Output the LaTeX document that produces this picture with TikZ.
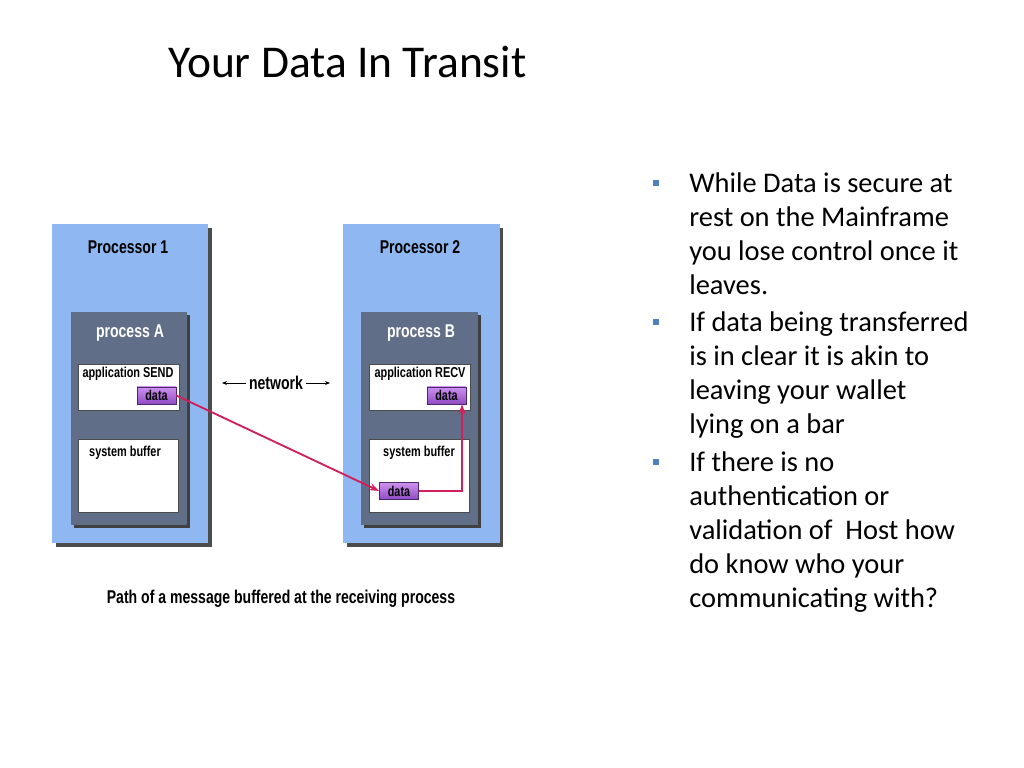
\documentclass[tikz,border=0pt]{standalone}
\usepackage{fontspec}
\setmainfont{Carlito}
\newfontfamily\diagfont{Liberation Sans}[FakeStretch=0.76]
\usetikzlibrary{arrows.meta,shadows}
\definecolor{cpublue}{RGB}{143,184,242}
\definecolor{procgray}{RGB}{96,111,135}
\definecolor{datatop}{RGB}{205,145,240}
\definecolor{databot}{RGB}{145,75,195}
\definecolor{dataedge}{RGB}{75,40,105}
\definecolor{msgred}{RGB}{210,30,90}
\definecolor{bulletblue}{RGB}{79,129,189}

\begin{document}
\begin{tikzpicture}[x=0.703125pt,y=-0.703125pt,
    cpu/.style={fill=cpublue,inner sep=0pt,minimum width=109.7pt,minimum height=224.3pt,
      drop shadow={shadow xshift=2.8pt,shadow yshift=-2.8pt,fill=black!70,opacity=1}},
    proc/.style={fill=procgray,inner sep=0pt,minimum width=81.6pt,minimum height=149.8pt,
      drop shadow={shadow xshift=2.1pt,shadow yshift=-2.1pt,fill=black!75,opacity=1}},
    app/.style={fill=white,draw=black!70,inner sep=0pt,minimum width=71pt,minimum height=32.3pt},
    buf/.style={fill=white,draw=black!70,inner sep=0pt,minimum width=70.3pt,minimum height=51.3pt},
    data/.style={top color=datatop,bottom color=databot,draw=dataedge,inner sep=0pt,
      minimum width=27.4pt,minimum height=12pt,font=\diagfont\bfseries\fontsize{10}{11}\selectfont},
    cpulabel/.style={font=\diagfont\bfseries\fontsize{13}{15}\selectfont},
    proclabel/.style={text=white,font=\diagfont\bfseries\fontsize{13}{15}\selectfont},
    boxlabel/.style={font=\diagfont\bfseries\fontsize{10.1}{12}\selectfont},
    msg/.style={draw=msgred,line width=1.3pt,-{Stealth[length=7pt,width=5pt]}},
    netarrow/.style={draw=black,line width=0.6pt,-{Stealth[length=3.5pt,width=2.8pt]}},
    bulletsq/.style={fill=bulletblue,inner sep=0pt,minimum size=4.5pt},
    item/.style={anchor=north west,inner sep=0pt,align=left,font=\fontsize{20}{23.9}\selectfont}]
    \useasboundingbox (0,0) rectangle (1024,768);

    \node[anchor=base west,inner sep=0pt,font=\fontsize{32}{38}\selectfont] (title) at (168,78) {Your Data In Transit};

    \node[cpu] (cpu1) at (130,383.5) {};
    \node[cpu] (cpu2) at (421.5,383.5) {};
    \node[proc] (procA) at (129,418.5) {};
    \node[proc] (procB) at (419.5,418.5) {};
    \node[app] (appA) at (128.5,387) {};
    \node[app] (appB) at (419.5,387) {};
    \node[buf] (bufA) at (128,475.5) {};
    \node[buf] (bufB) at (419,475.5) {};
    \node[data] (dataA) at (156.5,395.5) {data};
    \node[data] (dataB) at (446.5,395.5) {data};
    \node[data] (dataC) at (399,491) {data};

    \node[cpulabel] (cpu1lab) at (128,247) {Processor 1};
    \node[cpulabel] (cpu2lab) at (420,247) {Processor 2};
    \node[proclabel] (procAlab) at (130,333) {process A};
    \node[proclabel] (procBlab) at (421,333) {process B};
    \node[boxlabel] (appAlab) at (128,374) {application SEND};
    \node[boxlabel] (appBlab) at (420,374) {application RECV};
    \node[boxlabel] (bufAlab) at (125,453) {system buffer};
    \node[boxlabel] (bufBlab) at (419,453) {system buffer};

    \node[cpulabel,inner sep=2pt] (net) at (276,383) {network};
    \coordinate (netL) at (222,383);
    \coordinate (netR) at (330,383);
    \draw[netarrow] (net.west) -- (netL);
    \draw[netarrow] (net.east) -- (netR);

    \draw[msg] (dataA.east) -- (dataC.west);
    \draw[msg] (dataC.east) -| ([xshift=-3pt]dataB.south east);

    \node[cpulabel] (caption) at (281,599) {Path of a message buffered at the receiving process};

    \node[bulletsq] (sq1) at (656,183) {};
    \node[bulletsq] (sq2) at (656,322) {};
    \node[bulletsq] (sq3) at (656,462) {};
    \node[item] (b1) at (689,172) {While Data is secure at\\rest on the Mainframe\\you lose control once it\\leaves.};
    \node[item] (b2) at (689,311) {If data being transferred\\is in clear it is akin to\\leaving your wallet\\lying on a bar};
    \node[item] (b3) at (689,451) {If there is no\\authentication or\\validation of\ \ Host how\\do know who your\\communicating with?};
\end{tikzpicture}
\end{document}
